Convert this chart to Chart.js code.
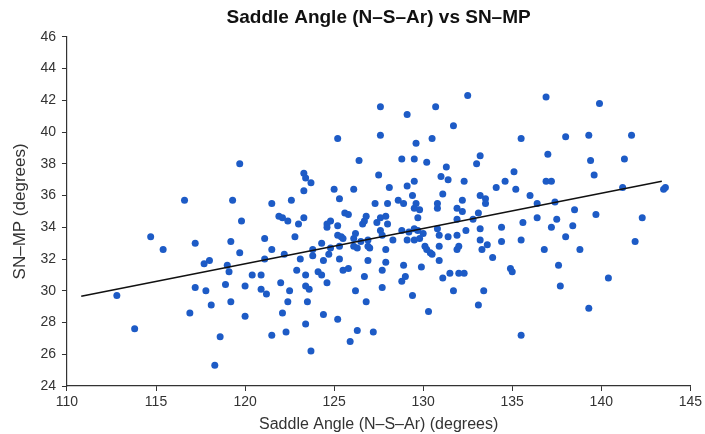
<!DOCTYPE html>
<html>
<head>
<meta charset="utf-8">
<script src="https://cdn.jsdelivr.net/npm/chart.js@4/dist/chart.umd.min.js"></script>
<style>
  body { margin: 0; background: #fff; }
  #grafico { display: block; }
</style>
</head>
<body>
<canvas id="grafico" width="705" height="434"></canvas>
<script>
// valores (angulo silla, SN-MP)
const anguloSilla = [
  112.8, 113.8, 114.7, 115.4, 116.6, 116.9, 117.2, 117.2, 117.7, 118.0,
  117.8, 118.1, 118.6, 118.3, 119.0, 119.1, 119.2, 119.3, 118.9, 119.2,
  119.7, 119.8, 119.7, 120.0, 120.0, 120.4, 120.9, 121.1, 121.1, 120.9,
  121.2, 121.5, 121.5, 121.5, 121.9, 122.1, 122.0, 122.1, 122.2, 122.4,
  122.3, 122.4, 122.6, 122.5, 122.8, 122.9, 123.0, 123.1, 123.3, 123.4,
  123.3, 123.3, 123.4, 123.4, 123.5, 123.4, 123.6, 123.7, 123.7, 123.8,
  123.8, 124.1, 124.3, 124.3, 124.4, 124.4, 124.6, 124.6, 124.6, 124.7,
  124.8, 124.8, 125.0, 125.2, 125.2, 125.2, 125.3, 125.3, 125.3, 125.2,
  125.4, 125.5, 125.6, 125.5, 125.8, 125.8, 125.9, 126.1, 126.1, 126.1,
  126.2, 126.3, 126.2, 126.3, 126.4, 126.5, 126.6, 126.7, 126.8, 126.7,
  126.8, 126.9, 126.9, 126.9, 127.0, 127.2, 127.3, 127.4, 127.5, 127.6,
  127.6, 127.6, 127.6, 127.7, 127.7, 127.7, 127.9, 127.9, 127.9, 128.0,
  128.0, 128.1, 128.3, 128.6, 128.8, 128.8, 128.8, 128.9, 128.9, 129.0,
  129.1, 129.1, 129.1, 129.2, 129.4, 129.4, 129.5, 129.5, 129.5, 129.5,
  129.5, 129.6, 129.6, 129.7, 129.7, 129.8, 129.8, 129.9, 130.0, 130.1,
  130.2, 130.2, 130.3, 130.4, 130.5, 130.5, 130.7, 130.8, 130.8, 130.9,
  130.8, 130.9, 130.9, 131.0, 131.1, 131.1, 131.3, 131.4, 131.4, 131.5,
  131.7, 131.7, 131.9, 131.9, 131.9, 131.9, 132.0, 132.0, 132.2, 132.2,
  132.3, 132.3, 132.4, 132.5, 132.8, 133.0, 133.1, 133.1, 133.2, 133.2,
  133.2, 133.2, 133.3, 133.4, 133.5, 133.5, 133.6, 133.9, 134.1, 134.4,
  134.4, 134.6, 134.9, 135.0, 135.1, 135.2, 135.5, 135.5, 135.5, 135.6,
  136.0, 136.4, 136.4, 136.8, 136.9, 137.0, 136.9, 137.2, 137.2, 137.4,
  137.5, 137.6, 137.7, 138.0, 138.0, 138.4, 138.5, 138.8, 139.3, 139.3,
  139.4, 139.6, 139.7, 139.9, 140.4, 141.2, 141.3, 141.7, 141.9, 142.3,
  143.5, 143.6
];
const snMp = [
  29.7, 27.6, 33.4, 32.6, 35.7, 28.6, 33.0, 30.2, 31.7, 31.9,
  30.0, 29.1, 27.1, 25.3, 31.6, 31.2, 33.1, 35.7, 30.4, 29.3,
  38.0, 34.4, 32.4, 28.4, 30.3, 31.0, 31.0, 33.3, 32.0, 30.1,
  29.8, 35.5, 32.6, 27.2, 34.7, 34.6, 30.5, 28.6, 32.3, 29.3,
  27.4, 34.4, 35.7, 30.0, 33.4, 31.3, 34.2, 32.0, 37.4, 37.1,
  36.3, 34.6, 31.0, 30.3, 29.3, 27.9, 30.1, 36.8, 26.2, 32.2,
  32.6, 31.2, 31.0, 33.0, 31.9, 28.5, 34.2, 34.0, 30.5, 32.3,
  32.7, 34.4, 36.4, 39.6, 34.1, 33.5, 32.8, 32.0, 35.8, 28.2,
  33.4, 33.3, 34.9, 31.3, 31.4, 34.8, 26.8, 36.4, 33.3, 32.8,
  33.6, 32.7, 30.0, 27.5, 38.2, 33.1, 34.2, 34.4, 29.3, 30.9,
  34.7, 32.8, 33.2, 31.9, 32.7, 27.4, 35.5, 34.3, 37.3, 41.6,
  39.8, 34.6, 33.8, 33.5, 31.3, 30.2, 34.7, 32.6, 31.8, 35.5,
  34.2, 36.5, 33.2, 35.7, 33.8, 30.6, 38.3, 35.5, 31.6, 30.9,
  36.6, 41.1, 33.2, 33.7, 36.0, 29.7, 38.3, 36.9, 35.2, 33.9,
  33.2, 39.3, 35.5, 34.6, 33.8, 35.1, 33.3, 31.5, 33.6, 32.8,
  38.1, 32.6, 28.7, 32.4, 32.3, 39.6, 41.6, 35.2, 35.5, 33.5,
  33.9, 32.8, 31.9, 37.2, 36.1, 30.8, 37.8, 37.0, 33.4, 31.1,
  30.0, 40.4, 33.5, 32.6, 34.5, 35.2, 32.8, 31.1, 35.0, 35.7,
  36.9, 31.1, 33.8, 42.3, 34.5, 38.0, 29.1, 34.9, 38.5, 36.0,
  33.9, 33.2, 32.6, 30.0, 35.8, 35.5, 32.9, 32.1, 36.5, 34.0,
  33.1, 36.9, 31.4, 31.2, 37.5, 36.4, 39.6, 27.2, 33.2, 34.3,
  36.0, 35.5, 34.6, 32.6, 42.2, 38.6, 36.9, 36.9, 34.0, 35.6,
  34.5, 31.6, 30.3, 39.7, 33.4, 34.1, 35.1, 32.6, 39.8, 28.9,
  38.2, 37.3, 34.8, 41.8, 30.8, 36.5, 38.3, 39.8, 33.1, 34.6,
  36.4, 36.5
];
// recta de ajuste (extremos)
const rectaX = [110.8, 143.4];
const rectaY = [29.65, 36.9];
const ticksX = [110, 115, 120, 125, 130, 135, 140, 145];
const ticksY = [24, 26, 28, 30, 32, 34, 36, 38, 40, 42, 44, 46];

const puntos = anguloSilla.map((x, i) => ({ x: x, y: snMp[i] }));
const recta = rectaX.map((x, i) => ({ x: x, y: rectaY[i] }));

const fuente = "'Liberation Sans', Arial, sans-serif";
const gris = '#333';

const ctx = document.getElementById('grafico').getContext('2d');
const grafico = new Chart(ctx, {
    type: 'scatter',
    data: {
        datasets: [{
            data: puntos,
            backgroundColor: '#1d5bc6',
            borderColor: '#1d5bc6',
            pointRadius: 3.5,
            borderWidth: 0,
            order: 2
        }, {
            type: 'line',
            data: recta,
            borderColor: '#111',
            borderWidth: 1.6,
            pointRadius: 0,
            fill: false,
            order: 1
        }]
    },
    options: {
        responsive: false,
        animation: false,
        layout: {
            padding: { left: 10, right: 12, top: 0, bottom: 0 }
        },
        plugins: {
            legend: { display: false },
            tooltip: { enabled: false },
            title: {
                display: true,
                fullSize: false,
                text: 'Saddle Angle (N–S–Ar) vs SN–MP',
                color: '#111',
                font: { family: fuente, size: 19, weight: 'bold' },
                padding: { top: 6, bottom: 8 }
            }
        },
        scales: {
            x: {
                type: 'linear',
                min: 110,
                max: 145,
                afterBuildTicks: (eje) => {
                    eje.ticks = ticksX.map(v => ({ value: v }));
                },
                grid: {
                    drawOnChartArea: false,
                    drawTicks: true,
                    tickLength: 5,
                    color: gris
                },
                border: { display: true, color: gris, width: 1.2 },
                ticks: {
                    color: gris,
                    padding: 3,
                    font: { family: fuente, size: 14 }
                },
                title: {
                    display: true,
                    text: 'Saddle Angle (N–S–Ar) (degrees)',
                    color: gris,
                    font: { family: fuente, size: 16 },
                    padding: { top: 1, bottom: 0 }
                }
            },
            y: {
                type: 'linear',
                min: 24,
                max: 46,
                afterBuildTicks: (eje) => {
                    eje.ticks = ticksY.map(v => ({ value: v }));
                },
                grid: {
                    drawOnChartArea: false,
                    drawTicks: true,
                    tickLength: 5,
                    color: gris
                },
                border: { display: true, color: gris, width: 1.2 },
                ticks: {
                    color: gris,
                    padding: 6,
                    font: { family: fuente, size: 14 }
                },
                title: {
                    display: true,
                    text: 'SN–MP (degrees)',
                    color: gris,
                    font: { family: fuente, size: 17 },
                    padding: { top: 0, bottom: 4 }
                }
            }
        }
    }
});
</script>
</body>
</html>
